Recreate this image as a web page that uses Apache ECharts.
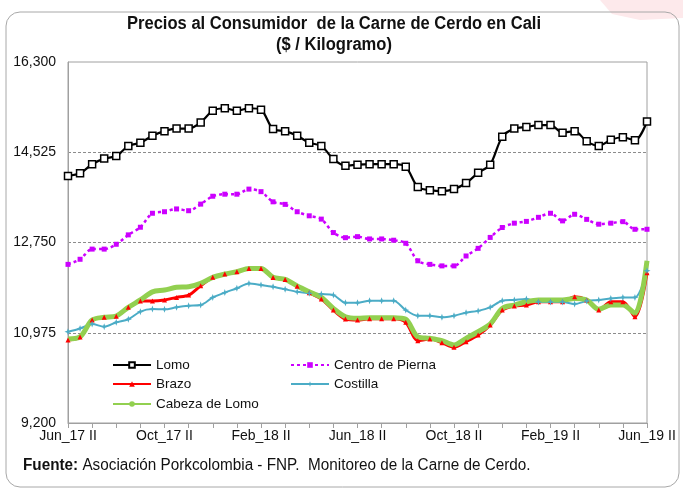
<!DOCTYPE html>
<html><head><meta charset="utf-8">
<script src="https://cdn.jsdelivr.net/npm/echarts@6/dist/echarts.min.js"></script>
<style>html,body{margin:0;padding:0;background:#fff}#c{width:683px;height:490px}</style>
</head><body><div id="c"></div>
<script>
const categories = ['Jun_17 II','Jul_17 I','Jul_17 II','Ago_17 I','Ago_17 II','Sep_17 I','Sep_17 II','Oct_17 I','Oct_17 II','Nov_17 I','Nov_17 II','Dic_17 I','Dic_17 II',
'Ene_18 I','Ene_18 II','Feb_18 I','Feb_18 II','Mar_18 I','Mar_18 II','Abr_18 I','Abr_18 II','May_18 I','May_18 II','Jun_18 I','Jun_18 II',
'Jul_18 I','Jul_18 II','Ago_18 I','Ago_18 II','Sep_18 I','Sep_18 II','Oct_18 I','Oct_18 II','Nov_18 I','Nov_18 II','Dic_18 I','Dic_18 II',
'Ene_19 I','Ene_19 II','Feb_19 I','Feb_19 II','Mar_19 I','Mar_19 II','Abr_19 I','Abr_19 II','May_19 I','May_19 II','Jun_19 I','Jun_19 II'];
const lomo = [14060,14110,14290,14400,14450,14650,14710,14850,14940,14990,14990,15110,15340,15390,15340,15390,15360,14980,14940,14850,14710,14650,14390,14260,14280,14290,14290,14290,14240,13840,13780,13760,13800,13920,14120,14280,14830,14990,15020,15060,15060,14910,14940,14740,14650,14770,14820,14760,15130];
const centroPierna = [12320,12420,12620,12620,12715,12900,13050,13325,13355,13410,13375,13505,13660,13700,13700,13800,13750,13550,13500,13355,13275,13210,12945,12845,12865,12820,12820,12795,12735,12390,12320,12290,12290,12485,12635,12850,13045,13130,13165,13245,13325,13175,13305,13205,13110,13130,13160,13010,13010];
const brazo = [10830,10890,11225,11280,11300,11475,11600,11600,11620,11670,11715,11900,12065,12130,12175,12240,12240,12060,12020,11890,11760,11640,11420,11245,11225,11250,11250,11250,11180,10820,10850,10780,10690,10800,10930,11125,11420,11500,11520,11585,11585,11585,11685,11620,11420,11585,11585,11290,12155];
const costilla = [10995,11060,11145,11095,11180,11240,11390,11440,11435,11475,11505,11520,11670,11765,11850,11945,11915,11880,11830,11780,11750,11735,11715,11565,11565,11605,11605,11605,11420,11310,11310,11280,11310,11370,11405,11475,11605,11620,11640,11580,11580,11580,11540,11600,11620,11650,11670,11670,12195];
const cabezaLomo = [10850,10895,11225,11280,11305,11475,11620,11780,11815,11870,11880,11945,12065,12130,12175,12240,12240,12065,12025,11895,11780,11670,11455,11290,11260,11270,11270,11270,11240,10895,10865,10820,10735,10865,10995,11145,11455,11520,11585,11620,11620,11620,11650,11620,11435,11520,11520,11355,12390];
const yTickLabels = ['9,200','10,975','12,750','14,525','16,300'];
const yMin = 9200, yMax = 16300;

const FONT = 'Arial, "Liberation Sans", sans-serif';
const chart = echarts.init(document.getElementById('c'), null, {renderer:'canvas'});
const smooth = 0.3;
function leg(name, left, top){
  return {data:[name], left:left, top:top, itemWidth:38, itemHeight:7, itemGap:0, padding:0,
    textStyle:{fontFamily:FONT, fontSize:13.5, color:'#111'}};
}
const option = {
  animation:false,
  backgroundColor:'#ffffff',
  grid:{left:68, right:36, top:62, bottom:67, show:true, borderColor:'#a0a0a0', borderWidth:1, backgroundColor:'transparent'},
  legend:[leg('Lomo',112,358), leg('Centro de Pierna',290,358), leg('Brazo',112,377), leg('Costilla',290,377), leg('Cabeza de Lomo',112,397)],
  xAxis:{type:'category', data:categories, boundaryGap:false,
    axisLine:{lineStyle:{color:'#a0a0a0', width:1}},
    axisTick:{interval:1, length:5, lineStyle:{color:'#a0a0a0'}},
    axisLabel:{interval:7, fontFamily:FONT, fontSize:14, color:'#111', margin:6},
    splitLine:{show:false}},
  yAxis:[
    {type:'value', min:yMin, max:yMax, show:false, splitLine:{show:false}},
    {type:'category', data:yTickLabels, boundaryGap:false, position:'left',
      axisLine:{show:true, lineStyle:{color:'#a0a0a0'}},
      axisTick:{show:false},
      axisLabel:{fontFamily:FONT, fontSize:14, color:'#111', margin:12},
      splitLine:{show:true, interval:function(i){return i>0 && i<yTickLabels.length-1;}, lineStyle:{color:'#8c8c8c', type:[3,2], width:1}}}
  ],
  series:[
    {name:'Lomo', type:'line', data:lomo, smooth:smooth, symbol:'rect', symbolSize:7,
      lineStyle:{color:'#000', width:2.2}, itemStyle:{color:'#fff', borderColor:'#000', borderWidth:1.5}, z:5},
    {name:'Centro de Pierna', type:'line', data:centroPierna, smooth:smooth, symbol:'rect', symbolSize:5,
      lineStyle:{color:'#cc00ff', width:2.5, type:[3,3]}, itemStyle:{color:'#cc00ff'}},
    {name:'Brazo', type:'line', data:brazo, smooth:smooth, symbol:'triangle', symbolSize:5,
      lineStyle:{color:'#ff0000', width:3}, itemStyle:{color:'#ff0000'}},
    {name:'Costilla', type:'line', data:costilla, smooth:smooth,
      symbol:'path://M0,-5 L1.3,-1.3 L5,0 L1.3,1.3 L0,5 L-1.3,1.3 L-5,0 L-1.3,-1.3 Z', symbolSize:7,
      lineStyle:{color:'#4bacc6', width:2}, itemStyle:{color:'#4bacc6'}},
    {name:'Cabeza de Lomo', type:'line', data:cabezaLomo, smooth:smooth, symbol:'none',
      lineStyle:{color:'#92d050', width:5}, itemStyle:{color:'#92d050'}}
  ],
  graphic:[
    {type:'polygon', z:-10, shape:{points:[[600,0],[683,0],[683,18],[640,20],[612,14]]}, style:{fill:'#fde9eb'}},
    {type:'rect', z:-5, shape:{x:6, y:12, width:673, height:475, r:14}, style:{fill:'none', stroke:'#a8a8a8', lineWidth:1}},
    {type:'text', x:334, y:24, scaleX:0.92, style:{text:'Precios al Consumidor  de la Carne de Cerdo en Cali', fill:'#111',
      font:'bold 18px '+FONT, textAlign:'center', textVerticalAlign:'middle'}},
    {type:'text', x:334, y:45, scaleX:0.92, style:{text:'($ / Kilogramo)', fill:'#111',
      font:'bold 18px '+FONT, textAlign:'center', textVerticalAlign:'middle'}},
    {type:'text', x:23, y:466, scaleX:0.955, style:{text:'{b|Fuente:} Asociación Porkcolombia - FNP.  Monitoreo de la Carne de Cerdo.',
      fill:'#111', fontFamily:FONT, fontSize:16, verticalAlign:'middle',
      rich:{b:{fontWeight:'bold', fontFamily:FONT, fontSize:16, fill:'#111'}}}}
  ]
};
chart.setOption(option);
</script></body></html>
